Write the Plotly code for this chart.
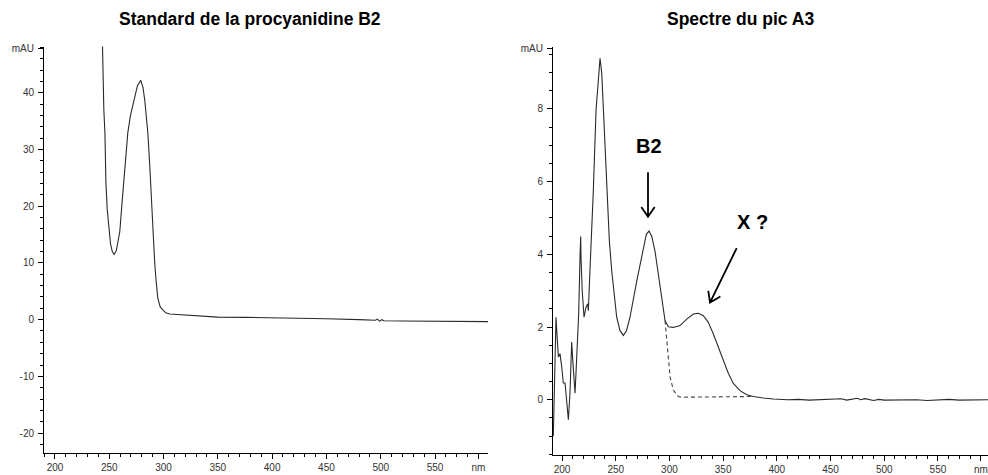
import math
import plotly.graph_objects as go

# ---------------- data ----------------
# Left: Standard de la procyanidine B2
left_nm = [243.6, 244.1, 245.0, 246.0, 246.9, 248.1, 249.9, 251.2, 252.8, 254.5,
           256.5, 258.3, 259.7, 261.3, 264.3, 265.9, 267.1, 269.5, 272.6, 276.0,
           279.0, 281.0, 282.7, 285.5, 287.3, 289.2, 290.1, 291.9, 293.3, 294.7,
           297.0, 299.3, 302.0, 305.7, 315, 330, 350, 375, 400, 430,
           440, 450, 480, 495, 497, 499, 501, 503, 520, 550, 575, 598.8]
left_mau = [50, 41.5, 37, 33, 24.3, 19.5, 15.5, 13.3, 12.0, 11.5,
            12.2, 13.8, 15.5, 19.5, 27.2, 30, 33, 36, 38.7, 41.3,
            42.2, 41.0, 38.7, 33, 27.2, 19.5, 15.5, 9.8, 6.5, 3.8,
            2.2, 1.7, 1.2, 1.0, 0.9, 0.7, 0.45, 0.4, 0.35, 0.3,
            0.2, 0.15, 0.0, -0.1, 0.1, -0.3, 0.0, -0.2, -0.25, -0.3, -0.35, -0.35]

# Right: Spectre du pic A3 (solid)
right_nm = [191.9, 192.8, 193.6, 194.4, 195.1, 195.8, 196.6, 197.4, 198.1, 199.7,
            201.2, 202.8, 204.4, 205.9, 207.4, 208.4, 209.0, 210.0, 211.2, 212.1,
            213.0, 214.2, 215.5, 216.8, 217.4, 217.7, 218.8, 220.5, 222.3, 223.9,
            224.5, 226.1, 227.7, 229.1, 231.7, 233.8, 235.4, 237.0, 238.5, 241.7,
            244.1, 246.3, 247.8, 250.9, 254.0, 257.1, 260.0, 263.3, 269.6, 275.7,
            278.5, 281.0, 283.5, 286.6, 291.2, 294.3, 295.9, 299.0, 303.6, 309.9,
            316.1, 322.3, 326.9, 331.6, 336.2, 340.9, 345.5, 350.2, 354.8, 359.5,
            365.7, 372.0, 378.1, 387.4, 396.7, 410, 420, 430, 440, 450,
            460, 465, 470, 475, 478, 482, 490, 495, 500, 510,
            520, 530, 540, 550, 560, 570, 580, 596.6]
right_mau = [-1.0, 0.1, 1.45, 2.27, 1.9, 1.45, 1.18, 1.22, 1.27, 0.91,
             0.46, 0.46, -0.18, -0.55, 0.18, 0.91, 1.59, 1.09, 0.63, 0.18,
             0.73, 1.55, 2.36, 4.0, 4.49, 3.9, 3.0, 2.27, 2.54, 2.64,
             2.45, 3.63, 4.54, 5.71, 7.98, 8.89, 9.39, 8.98, 7.98, 6.17,
             4.35, 3.54, 3.08, 2.27, 1.9, 1.77, 1.9, 2.27, 3.27, 4.17,
             4.55, 4.64, 4.5, 4.08, 3.18, 2.45, 2.18, 2.01, 1.99, 2.04,
             2.22, 2.36, 2.38, 2.31, 2.13, 1.81, 1.45, 1.09, 0.73, 0.45,
             0.25, 0.14, 0.09, 0.05, 0.02, 0.0, 0.01, -0.01, 0.0, 0.0,
             0.03, -0.01, 0.02, 0.04, 0.0, 0.03, -0.02, 0.01, -0.01, 0.0,
             0.01, 0.0, -0.02, 0.0, 0.01, -0.01, 0.0, 0.0]

# Right: B2 contribution (dashed)
dash_nm = [295.9, 297.5, 299.0, 300.6, 303.6, 308.3, 311, 340, 378.1]
dash_mau = [2.18, 1.63, 1.09, 0.63, 0.27, 0.09, 0.07, 0.07, 0.09]

left_yticks = [-20, -10, 0, 10, 20, 30, 40, 47.8]
left_yticktext = ["-20", "-10", "0", "10", "20", "30", "40", "mAU"]
right_yticks = [0, 2, 4, 6, 8, 9.66]
right_yticktext = ["0", "2", "4", "6", "8", "mAU"]
xticks = [200, 250, 300, 350, 400, 450, 500, 550, 590]
xticktext = ["200", "250", "300", "350", "400", "450", "500", "550", "nm"]

titles = ["Standard de la procyanidine B2", "Spectre du pic A3"]
labels = ["B2", "X ?"]

# ---------------- figure ----------------
W, H = 988, 475
fig = go.Figure()
line_col = "#2a2a2a"
fig.add_trace(go.Scatter(x=left_nm, y=left_mau, mode="lines",
                         line=dict(color=line_col, width=1.1),
                         xaxis="x", yaxis="y", showlegend=False))
fig.add_trace(go.Scatter(x=right_nm, y=right_mau, mode="lines",
                         line=dict(color=line_col, width=1.1),
                         xaxis="x2", yaxis="y2", showlegend=False))
fig.add_trace(go.Scatter(x=dash_nm, y=dash_mau, mode="lines",
                         line=dict(color="#444", width=1.1, dash="4px,3px"),
                         xaxis="x2", yaxis="y2", showlegend=False))

tickfont = dict(family="Liberation Sans, Arial, sans-serif", size=10, color="#333")


def xax(domain, rng, anchor):
    return dict(domain=domain, range=rng, anchor=anchor, showgrid=False, zeroline=False,
                showline=True, linecolor="black", linewidth=1,
                ticks="outside", ticklen=5, tickcolor="black", tickwidth=1,
                tickmode="array", tickvals=xticks, ticktext=xticktext,
                tickfont=tickfont,
                minor=dict(ticks="outside", ticklen=3, tickcolor="black",
                           tickmode="linear", tick0=0, dtick=10, showgrid=False))


def yax(domain, rng, anchor, tv, tt, mdt):
    return dict(domain=domain, range=rng, anchor=anchor, showgrid=False, zeroline=False,
                showline=True, linecolor="black", linewidth=1,
                ticks="outside", ticklen=5, tickcolor="black", tickwidth=1,
                tickmode="array", tickvals=tv, ticktext=tt,
                tickfont=tickfont, ticklabelstandoff=2,
                minor=dict(ticks="outside", ticklen=3, tickcolor="black",
                           tickmode="linear", tick0=0, dtick=mdt, showgrid=False))


fig.update_layout(
    width=W, height=H,
    margin=dict(l=0, r=0, t=0, b=0),
    paper_bgcolor="white", plot_bgcolor="white",
    xaxis=xax([44 / W, 488 / W], [189.9, 598.8], "y"),
    yaxis=yax([1 - 454 / H, 1 - 43 / H], [-23.56, 48.17], "x", left_yticks, left_yticktext, 2),
    xaxis2=xax([553 / W, 1.0], [191.6, 596.6], "y2"),
    yaxis2=yax([1 - 456 / H, 1 - 43 / H], [-1.524, 9.714], "x2", right_yticks, right_yticktext, 0.5),
)

font_b = "Liberation Sans, Arial, sans-serif"
ann = []
for txt, cx in zip(titles, [250, 740]):
    ann.append(dict(text="<b>%s</b>" % txt, x=cx / W, y=1 - 15 / H, xref="paper", yref="paper",
                    xanchor="center", yanchor="middle", showarrow=False,
                    font=dict(family=font_b, size=17.5, color="black")))
for txt, (cx, cy) in zip(labels, [(648.5, 144), (752, 220)]):
    ann.append(dict(text="<b>%s</b>" % txt, x=cx / W, y=1 - cy / H, xref="paper", yref="paper",
                    xanchor="center", yanchor="middle", showarrow=False,
                    font=dict(family=font_b, size=20, color="black")))
fig.update_layout(annotations=ann)


# arrows drawn as open-V paths (pixel positions converted to paper fractions)
def arrow_path(x0, y0, x1, y1, head=12, ang=34):
    dx, dy = x1 - x0, y1 - y0
    L = math.hypot(dx, dy)
    ux, uy = dx / L, dy / L
    pts = []
    for s in (1, -1):
        a = math.radians(ang) * s
        bx = -(ux * math.cos(a) - uy * math.sin(a))
        by = -(ux * math.sin(a) + uy * math.cos(a))
        pts.append((x1 + bx * head, y1 + by * head))

    def P(x, y):
        return "%.5f,%.5f" % (x / W, 1 - y / H)
    return ("M" + P(x0, y0) + " L" + P(x1, y1) +
            " M" + P(*pts[0]) + " L" + P(x1, y1) + " L" + P(*pts[1]))


shapes = [
    dict(type="path", xref="paper", yref="paper", path=arrow_path(648, 170, 648, 215),
         line=dict(color="black", width=1.8)),
    dict(type="path", xref="paper", yref="paper", path=arrow_path(736.7, 246.7, 710, 301.7),
         line=dict(color="black", width=1.8)),
]
fig.update_layout(shapes=shapes)

fig.write_html("out.html", config={"displayModeBar": False},
               post_script="document.body.style.margin='0';document.body.style.padding='0';")
